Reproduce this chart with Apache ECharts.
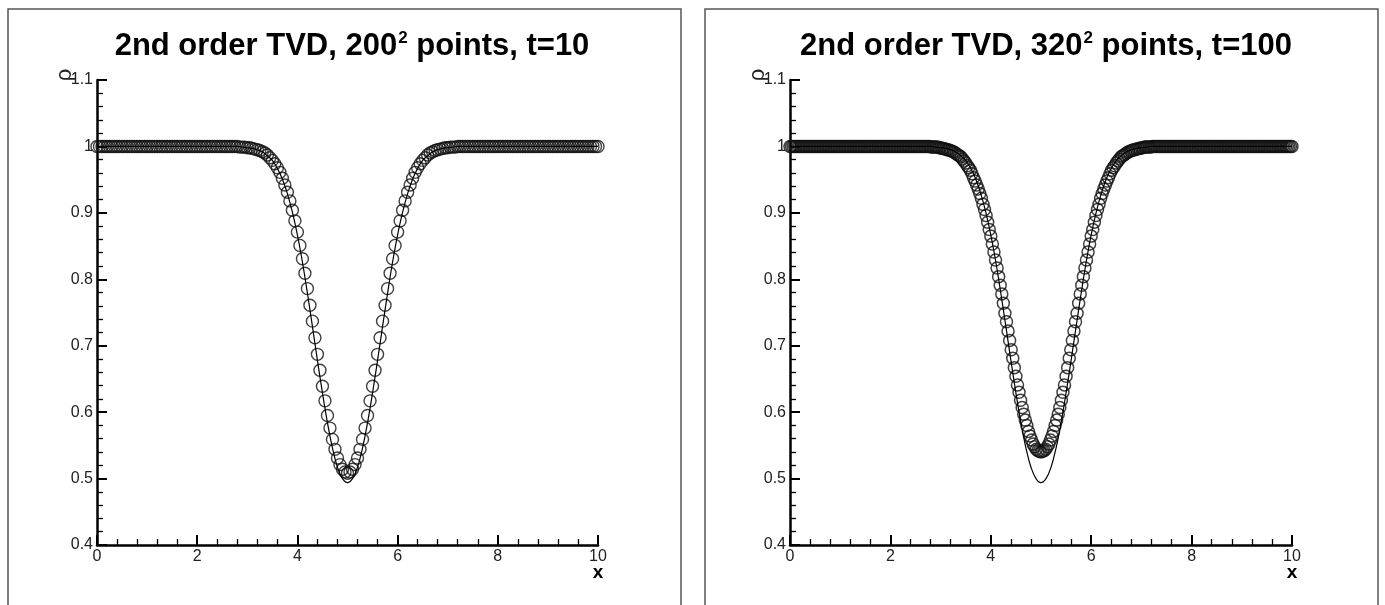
<!DOCTYPE html>
<html>
<head>
<meta charset="utf-8">
<script src="https://cdn.jsdelivr.net/npm/echarts@6/dist/echarts.min.js"></script>
<style>
  html, body { margin: 0; padding: 0; background: #fff; }
  #chart { width: 1385px; height: 605px; }
</style>
</head>
<body>
<div id="chart"></div>
<script>
// Density profile through the vortex core, 2nd order TVD scheme vs exact solution.

// Grid spacing of each sampled data set along x (domain 0..10)
const xStepLeft = 0.05;      // 200^2 mesh
const xStepRight = 0.03125;  // 320^2 mesh
const xStepExact = 0.1;      // exact solution curve

// Numerical density, 200^2 points, t=10
const rhoLeft = [
  1,1,1,1,1,1,1,1,1,1,
  1,1,1,1,1,1,1,1,1,1,
  1,1,1,1,1,1,1,1,1,1,
  1,1,1,1,1,1,1,1,1,1,
  1,1,1,1,1,1,1,1,1,1,
  1,1,1,1,1,1,1,
  0.999,0.999,0.999,0.998,0.998,0.997,0.996,0.995,0.994,0.992,
  0.990,0.987,0.983,0.979,0.974,0.968,0.961,0.952,0.942,0.931,
  0.918,0.904,0.888,0.871,0.851,0.831,0.809,0.786,0.761,0.737,
  0.712,0.687,0.663,0.639,0.617,0.595,0.576,0.559,0.544,0.531,
  0.521,0.514,0.510,0.508,
  0.510,0.514,0.521,
  0.531,0.544,0.559,0.576,0.595,0.617,0.639,0.663,0.687,0.712,
  0.737,0.761,0.786,0.809,0.831,0.851,0.871,0.888,0.904,0.918,
  0.931,0.942,0.952,0.961,0.968,0.974,0.979,0.983,0.987,0.990,
  0.992,0.994,0.995,0.996,0.997,0.998,0.998,0.999,0.999,0.999,
  1,1,1,1,1,1,1,1,1,1,
  1,1,1,1,1,1,1,1,1,1,
  1,1,1,1,1,1,1,1,1,1,
  1,1,1,1,1,1,1,1,1,1,
  1,1,1,1,1,1,1,1,1,1,
  1,1,1,1,1,1,1
];

// Numerical density, 320^2 points, t=100
const rhoRight = [
  1,1,1,1,1,1,1,1,1,1,
  1,1,1,1,1,1,1,1,1,1,
  1,1,1,1,1,1,1,1,1,1,
  1,1,1,1,1,1,1,1,1,1,
  1,1,1,1,1,1,1,1,1,1,
  1,1,1,1,1,1,1,1,1,1,
  1,1,1,1,1,1,1,1,1,1,
  1,1,1,1,1,1,1,1,1,1,
  1,1,1,1,1,1,1,1,1,1,
  0.999,0.999,0.999,0.999,0.999,0.998,0.998,0.997,0.997,0.996,
  0.995,0.995,0.994,0.993,0.992,0.991,0.989,0.987,0.986,0.984,
  0.981,0.978,0.975,0.971,0.968,0.964,0.959,0.953,0.948,0.942,
  0.936,0.929,0.922,0.913,0.905,0.896,0.886,0.875,0.865,0.853,
  0.841,0.829,0.817,0.804,0.791,0.778,0.764,0.749,0.736,0.722,
  0.708,0.694,0.681,0.667,0.654,0.641,0.630,0.618,0.607,0.597,
  0.588,0.580,0.571,0.564,0.558,0.552,0.548,0.544,0.542,0.541,
  0.540,
  0.541,0.542,0.544,0.548,0.552,0.558,0.564,0.571,0.580,0.588,
  0.597,0.607,0.618,0.630,0.641,0.654,0.667,0.681,0.694,0.708,
  0.722,0.736,0.749,0.764,0.778,0.791,0.804,0.817,0.829,0.841,
  0.853,0.865,0.875,0.886,0.896,0.905,0.913,0.922,0.929,0.936,
  0.942,0.948,0.953,0.959,0.964,0.968,0.971,0.975,0.978,0.981,
  0.984,0.986,0.987,0.989,0.991,0.992,0.993,0.994,0.995,0.995,
  0.996,0.997,0.997,0.998,0.998,0.999,0.999,0.999,0.999,0.999,
  1,1,1,1,1,1,1,1,1,1,
  1,1,1,1,1,1,1,1,1,1,
  1,1,1,1,1,1,1,1,1,1,
  1,1,1,1,1,1,1,1,1,1,
  1,1,1,1,1,1,1,1,1,1,
  1,1,1,1,1,1,1,1,1,1,
  1,1,1,1,1,1,1,1,1,1,
  1,1,1,1,1,1,1,1,1,1,
  1,1,1,1,1,1,1,1,1,1
];

// Exact density profile (same in both panels)
const rhoExact = [
  1,1,1,1,1,1,1,1,1,1,
  1,1,1,1,1,1,1,1,1,1,
  1,1,1,1,1,1,1,1,1,
  0.999,0.998,0.997,0.995,0.992,0.986,0.979,0.967,0.951,0.929,
  0.901,0.867,0.826,0.779,0.729,0.678,0.629,0.584,0.546,0.517,
  0.500,
  0.494,
  0.500,0.517,0.546,0.584,0.629,0.678,0.729,0.779,0.826,0.867,
  0.901,0.929,0.951,0.967,0.979,0.986,0.992,0.995,0.997,0.998,
  0.999,
  1,1,1,1,1,1,1,1,1,1,
  1,1,1,1,1,1,1,1,1,1,
  1,1,1,1,1,1,1,1,1
];

// Axis ticks
const xTicks = { min: 0, max: 10, interval: 2 };
const yTicks = { min: 0.4, max: 1.1, interval: 0.1 };

const panelTitles = [
  { main: '2nd order TVD, 200', sup: '2', tail: ' points, t=10' },
  { main: '2nd order TVD, 320', sup: '2', tail: ' points, t=100' }
];

const FONT = "'Liberation Sans', Arial, Helvetica, sans-serif";

function toPairs(values, step) {
  return values.map((v, i) => [i * step, v]);
}

const grids = [
  { left: 97, top: 80, width: 501, height: 465 },
  { left: 790, top: 80, width: 502, height: 465 }
];

const axisLine = { show: true, onZero: false, lineStyle: { color: '#000', width: 2.5 } };
const axisTick = { show: true, inside: true, length: 10, lineStyle: { color: '#000', width: 2 } };
const minorTick = { show: true, splitNumber: 5, length: 6, lineStyle: { color: '#000', width: 1.3 } };

function xAxisFor(idx) {
  return {
    type: 'value', gridIndex: idx,
    min: xTicks.min, max: xTicks.max, interval: xTicks.interval,
    axisLine, axisTick, minorTick,
    splitLine: { show: false },
    axisLabel: { color: '#222', fontFamily: FONT, fontSize: 16, margin: 4 }
  };
}

function yAxisFor(idx) {
  return {
    type: 'value', gridIndex: idx,
    min: yTicks.min, max: yTicks.max, interval: yTicks.interval,
    axisLine, axisTick, minorTick,
    splitLine: { show: false },
    axisLabel: {
      color: '#222', fontFamily: FONT, fontSize: 16, margin: 4,
      formatter: v => String(parseFloat(v.toFixed(1)))
    }
  };
}

function circles(values, step, idx, width) {
  return {
    type: 'scatter', xAxisIndex: idx, yAxisIndex: idx,
    data: toPairs(values, step),
    symbol: 'circle', symbolSize: 12,
    itemStyle: { color: 'rgba(0,0,0,0)', borderColor: '#111', borderWidth: width },
    emphasis: { disabled: true },
    animation: false, z: 2
  };
}

function exactLine(idx) {
  return {
    type: 'line', xAxisIndex: idx, yAxisIndex: idx,
    data: toPairs(rhoExact, xStepExact),
    showSymbol: false, symbol: 'none', smooth: 0.4,
    lineStyle: { color: '#000', width: 1.2 },
    animation: false, z: 3
  };
}

const chart = echarts.init(document.getElementById('chart'), null, { renderer: 'canvas' });

const titles = panelTitles.map((t, i) => ({
  text: '{a|' + t.main + '}{s|' + t.sup + '}{a|' + t.tail + '}',
  left: i === 0 ? 347 : 1041,
  top: 23,
  textAlign: 'center',
  textStyle: {
    rich: {
      a: { fontFamily: FONT, fontSize: 31, fontWeight: 'bold', color: '#000', lineHeight: 36 },
      s: { fontFamily: FONT, fontSize: 17, fontWeight: 'bold', color: '#000', lineHeight: 36, padding: [0, 0, 16, 1] }
    }
  }
}));

chart.setOption({
  backgroundColor: '#fff',
  animation: false,
  title: titles,
  grid: grids,
  xAxis: [xAxisFor(0), xAxisFor(1)],
  yAxis: [yAxisFor(0), yAxisFor(1)],
  series: [
    circles(rhoLeft, xStepLeft, 0, 1.4),
    exactLine(0),
    circles(rhoRight, xStepRight, 1, 1.5),
    exactLine(1)
  ]
});

// Panel frames plus axis titles, placed from each grid's own axis scales
const decorations = [
  { type: 'rect', shape: { x: 8, y: 9, width: 673, height: 620 },
    style: { fill: 'none', stroke: '#555', lineWidth: 1.5 }, silent: true },
  { type: 'rect', shape: { x: 705, y: 9, width: 673, height: 620 },
    style: { fill: 'none', stroke: '#555', lineWidth: 1.5 }, silent: true }
];
[0, 1].forEach(i => {
  const corner = chart.convertToPixel({ xAxisIndex: i, yAxisIndex: i }, [xTicks.max, yTicks.min]);
  const top = chart.convertToPixel({ xAxisIndex: i, yAxisIndex: i }, [xTicks.min, yTicks.max]);
  decorations.push({
    type: 'text', x: corner[0], y: corner[1] + 28, silent: true,
    style: { text: 'x', fontSize: 19, fontWeight: 'bold', fontFamily: FONT, fill: '#000',
      align: 'center', verticalAlign: 'middle' }
  });
  decorations.push({
    type: 'text', x: top[0] - 32, y: top[1] - 5, rotation: Math.PI / 2, silent: true,
    style: { text: 'ρ', fontSize: 22, fontFamily: FONT, fill: '#222', align: 'center', verticalAlign: 'middle' }
  });
});
chart.setOption({ graphic: decorations });
</script>
</body>
</html>
